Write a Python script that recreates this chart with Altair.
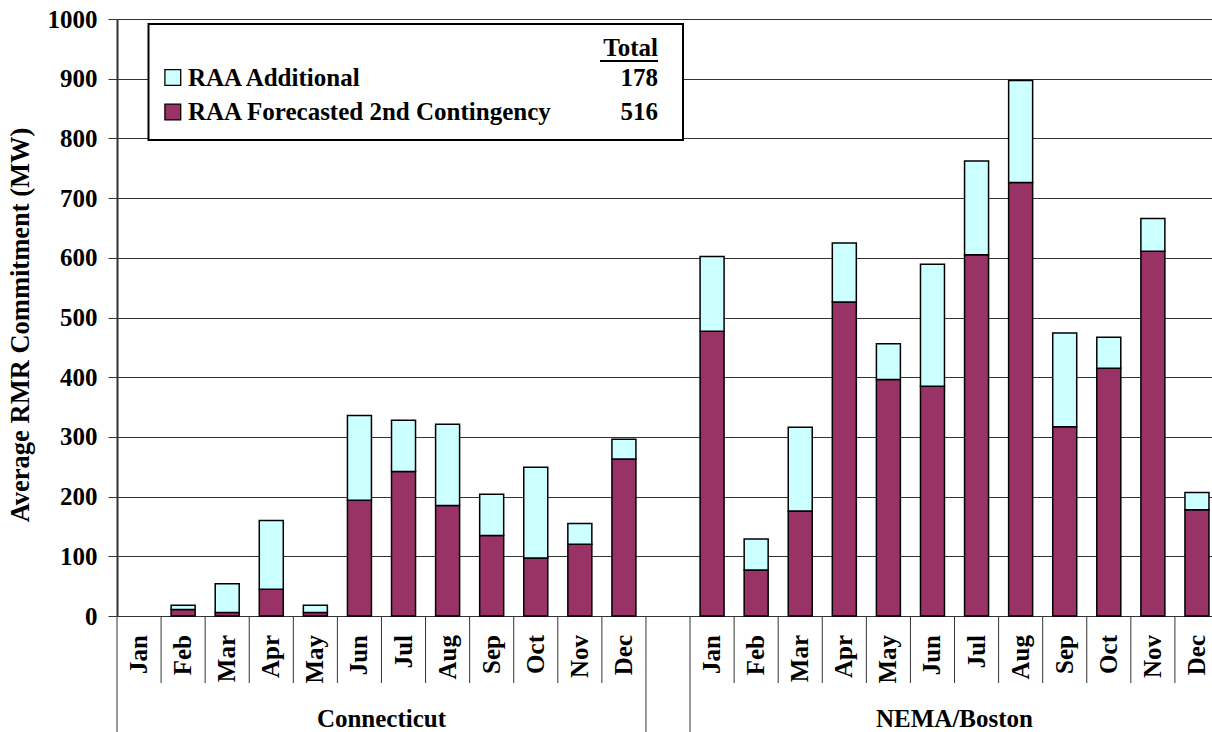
import altair as alt
import pandas as pd

# ---- data -------------------------------------------------------------
groups = ["Connecticut", "NEMA/Boston"]
months = ["Jan", "Feb", "Mar", "Apr", "May", "Jun",
          "Jul", "Aug", "Sep", "Oct", "Nov", "Dec"]

ct_forecast = [0, 11, 6, 45, 6, 194, 242, 185, 135, 97, 120, 263]
ct_additional = [0, 7, 48, 115, 12, 142, 86, 136, 69, 152, 35, 33]
nema_forecast = [477, 77, 176, 526, 396, 385, 605, 726, 317, 415, 611, 178]
nema_additional = [125, 52, 140, 99, 60, 204, 157, 171, 157, 52, 55, 29]

series = ["RAA Additional", "RAA Forecasted 2nd Contingency"]
series_totals = [178, 516]
series_colors = ["#CCFFFF", "#993366"]
y_ticks = list(range(0, 1001, 100))

# ---- tables -----------------------------------------------------------
def key(group, month):
    return f"{group}|{month}"

gap_key = "gap"
x_domain = ([key(groups[0], m) for m in months] + [gap_key]
            + [key(groups[1], m) for m in months])

values = {
    groups[0]: {series[1]: ct_forecast, series[0]: ct_additional},
    groups[1]: {series[1]: nema_forecast, series[0]: nema_additional},
}
rows = []
for g in groups:
    for s_idx, s in enumerate([series[1], series[0]]):
        for m, v in zip(months, values[g][s]):
            if v > 0:
                rows.append({"key": key(g, m), "series": s,
                             "value": v, "stack_order": s_idx})
bars_df = pd.DataFrame(rows)

month_label_df = pd.DataFrame({
    "key": [key(g, m) for g in groups for m in months],
    "month": [m for g in groups for m in months],
})
long_sep_keys = [key(groups[0], months[0]), gap_key, key(groups[1], months[0])]
short_sep_df = pd.DataFrame({"key": [k for k in x_domain if k not in long_sep_keys]})
long_sep_df = pd.DataFrame({"key": long_sep_keys})
group_label_df = pd.DataFrame({"key": [key(g, "Jul") for g in groups], "group": groups})

# ---- styling ----------------------------------------------------------
FONT = "Liberation Serif, Times New Roman, DejaVu Serif, serif"
FS = 25
txt = dict(font=FONT, fontWeight="bold", fontSize=FS, color="black")

x_scale = alt.Scale(domain=x_domain, range=[0, 1102], paddingInner=0, paddingOuter=0)
color_scale = alt.Scale(domain=series, range=series_colors)


def x_edge(field="key"):
    """x position at the left edge of a month slot."""
    return alt.X(f"{field}:N", scale=x_scale, bandPosition=0, axis=None, title=None)


bars = alt.Chart(bars_df).mark_bar(
    size=24, stroke="black", strokeWidth=1.5
).encode(
    x=alt.X(
        "key:N", scale=x_scale, title=None, sort=x_domain,
        axis=alt.Axis(labels=False, ticks=False, domainColor="black",
                      domainWidth=1.5, grid=False),
    ),
    y=alt.Y(
        "value:Q", stack="zero",
        scale=alt.Scale(domain=[0, 1000], nice=False),
        axis=alt.Axis(
            values=y_ticks, format="d", grid=True, gridColor="#333333", gridWidth=1,
            tickSize=9, tickColor="#333333", labelPadding=11,
            domainColor="#333333", domainWidth=2,
            title="Average RMR Commitment (MW)", titleFontSize=26.5,
            titleAngle=270, titleAlign="center", titleBaseline="alphabetic",
            titleX=-89, titleY=305.5,
        ),
    ),
    color=alt.Color("series:N", scale=color_scale, legend=None),
    order=alt.Order("stack_order:Q"),
)

month_labels = alt.Chart(month_label_df).mark_text(
    angle=270, align="right", baseline="middle", **txt
).encode(
    x=alt.X("key:N", scale=x_scale, axis=None, title=None),
    y=alt.value(616),
    text="month:N",
)

short_seps = alt.Chart(short_sep_df).mark_rule(color="#333333", strokeWidth=1).encode(
    x=x_edge(), y=alt.value(597), y2=alt.value(664),
)
long_seps = alt.Chart(long_sep_df).mark_rule(color="#333333", strokeWidth=1).encode(
    x=x_edge(), y=alt.value(597), y2=alt.value(720),
)
group_labels = alt.Chart(group_label_df).mark_text(
    align="center", baseline="alphabetic", **txt
).encode(
    x=x_edge(), y=alt.value(708), text="group:N",
)

# ---- legend box with totals ------------------------------------------
one = pd.DataFrame({"t": ["Total"]})
legend_layers = [
    alt.Chart(one).mark_rect(fill="white", stroke="black", strokeWidth=2).encode(
        x=alt.value(31.5), x2=alt.value(566), y=alt.value(5), y2=alt.value(121)),
    alt.Chart(one).mark_text(align="right", baseline="middle", **txt).encode(
        x=alt.value(541), y=alt.value(29), text="t:N"),
    alt.Chart(one).mark_rule(color="black", strokeWidth=2).encode(
        x=alt.value(483), x2=alt.value(541), y=alt.value(42)),
]
for i, (name, total) in enumerate(zip(series, series_totals)):
    row = alt.Chart(pd.DataFrame({"series": [name], "total": [total]}))
    y = 58.5 + 34.5 * i
    legend_layers += [
        row.mark_square(size=250, stroke="black", strokeWidth=1.3, opacity=1).encode(
            x=alt.value(55.8), y=alt.value(y),
            color=alt.Color("series:N", scale=color_scale, legend=None)),
        row.mark_text(align="left", baseline="middle", **txt).encode(
            x=alt.value(71), y=alt.value(y), text="series:N"),
        row.mark_text(align="right", baseline="middle", **txt).encode(
            x=alt.value(541), y=alt.value(y), text="total:Q"),
    ]

chart = alt.layer(
    bars, month_labels, short_seps, long_seps, group_labels, *legend_layers
).properties(
    width=1095, height=597,
    autosize=alt.AutoSizeParams(type="none"),
    padding={"left": 117, "top": 19, "right": 0, "bottom": 116},
    background="white",
).configure_view(
    stroke=None
).configure_axis(
    labelFont=FONT, labelFontWeight="bold", labelFontSize=FS, labelColor="black",
    titleFont=FONT, titleFontWeight="bold", titleFontSize=FS, titleColor="black",
    labelOverlap=False,
)

chart.save("out.html", embed_options={"renderer": "svg", "actions": False})
